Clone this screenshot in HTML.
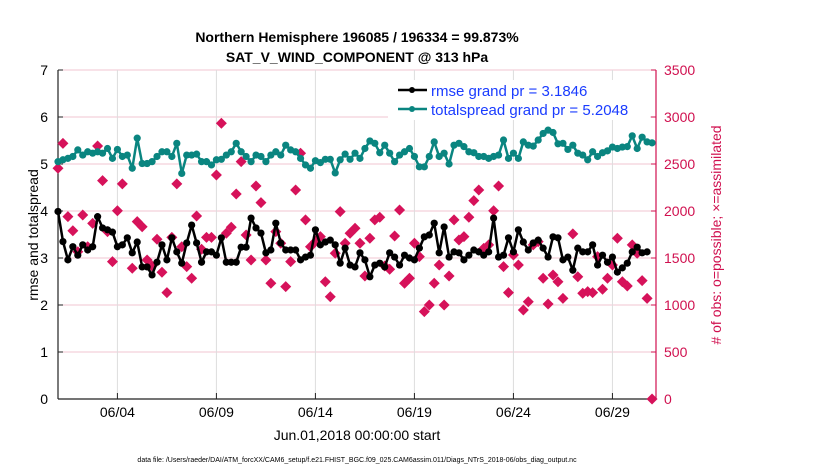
<!DOCTYPE html>
<html><head><meta charset="utf-8"><style>
html,body{margin:0;padding:0;background:#fff;}
svg{display:block;font-family:"Liberation Sans",Arial,sans-serif;}
</style></head><body>
<svg id="chart" width="830" height="470" viewBox="0 0 830 470">
<g id="grid"></g>
<g id="axes"></g>
<g id="marks"></g>
<text x="357" y="42" text-anchor="middle" font-size="14" font-weight="bold">Northern Hemisphere 196085 / 196334 = 99.873%</text>
<text x="357" y="62" text-anchor="middle" font-size="14" font-weight="bold">SAT_V_WIND_COMPONENT @ 313 hPa</text>
<text x="357" y="440" text-anchor="middle" font-size="14">Jun.01,2018 00:00:00 start</text>
<text x="357" y="462" text-anchor="middle" font-size="7">data file: /Users/raeder/DAI/ATM_forcXX/CAM6_setup/f.e21.FHIST_BGC.f09_025.CAM6assim.011/Diags_NTrS_2018-06/obs_diag_output.nc</text>
<text transform="translate(38,235) rotate(-90)" text-anchor="middle" font-size="14">rmse and totalspread</text>
<text transform="translate(721,235) rotate(-90)" text-anchor="middle" font-size="14" fill="#d0104f"># of obs: o=possible; ×=assimilated</text>
<g>
<rect x="388" y="80" width="262" height="40" fill="#fff"/>
<line x1="398" y1="90" x2="427" y2="90" stroke="#000" stroke-width="2.5"/>
<circle cx="412" cy="90" r="3" fill="#000"/>
<text x="431" y="96" font-size="15" fill="#1a3cff">rmse grand pr = 3.1846</text>
<line x1="398" y1="109" x2="427" y2="109" stroke="#0a8580" stroke-width="2.5"/>
<circle cx="412" cy="109" r="3" fill="#0a8580"/>
<text x="431" y="115" font-size="15" fill="#1a3cff">totalspread grand pr = 5.2048</text>
</g>
</svg>
<script>
const rmse=[3.99,3.35,2.96,3.24,3.06,3.28,3.17,3.24,3.88,3.64,3.6,3.55,3.24,3.28,3.43,3.11,3.34,2.81,2.81,2.64,2.91,3.28,2.96,3.43,3.13,2.89,3.32,3.7,3.32,2.91,3.13,3.13,3.06,3.43,2.91,2.91,2.91,3.23,3.23,3.85,3.64,
3.53,3.11,3.17,3.74,3.32,3.17,3.17,3.17,2.96,3.02,3.06,3.6,3.28,3.34,3.38,3.28,2.89,3.21,2.85,2.81,3.11,2.96,2.6,2.85,2.89,2.81,3.11,3.02,2.85,3.06,3.0,2.96,3.21,3.45,3.49,3.74,3.11,3.66,3.02,3.13,
3.11,2.96,3.06,3.17,3.13,3.06,3.13,3.85,3.02,3.06,3.43,3.13,3.6,3.34,3.17,3.32,3.38,3.21,3.02,3.45,3.43,2.96,3.02,2.74,3.21,3.13,3.13,3.28,2.85,3.06,2.91,3.02,2.7,2.79,2.89,3.13,3.23,3.11,3.13];
const spread=[5.05,5.09,5.12,5.16,5.3,5.19,5.26,5.23,5.26,5.23,5.33,5.12,5.31,5.16,5.19,4.91,5.55,5.01,5.01,5.05,5.16,5.26,5.26,5.16,5.44,4.8,5.19,5.19,5.21,5.05,5.05,4.98,5.09,5.1,5.19,5.26,5.44,5.26,5.16,5.05,5.19,
5.16,5.05,5.19,5.26,5.19,5.4,5.3,5.26,5.12,4.98,4.91,5.07,5.03,5.1,5.1,4.81,5.09,5.21,5.1,5.23,5.12,5.33,5.49,5.44,5.24,5.4,5.23,5.05,5.19,5.26,5.33,5.16,4.94,4.94,5.16,5.47,5.16,5.23,5.0,5.4,
5.44,5.37,5.26,5.24,5.16,5.16,5.12,5.16,5.19,5.51,5.12,5.23,5.12,5.47,5.4,5.38,5.51,5.65,5.72,5.67,5.43,5.44,5.31,5.4,5.23,5.19,5.09,5.26,5.16,5.24,5.28,5.36,5.33,5.36,5.37,5.6,5.33,5.57,5.47,5.45];
const obsCount=[2455,2720,1940,1790,1567,1958,1620,1869,2692,2323,1780,1461,2003,2288,null,1391,1887,1833,1479,1415,1699,1348,1131,1720,2288,1620,1408,1284,1947,1593,1720,1720,2383,2933,1763,1827,2181,2525,1745,1479,2266,
2089,1479,1231,1780,1657,1195,1461,2224,2614,1905,1620,1674,1727,1248,1088,1550,1993,1657,1763,1816,1657,1309,1710,1905,1933,1415,1380,1734,2011,1231,1284,1657,1514,929,1000,1231,1426,1000,1309,1905,
1692,1727,1933,2110,2224,1603,1639,2003,2266,1408,1131,1532,1426,947,1035,1639,1674,1284,1011,1319,1248,1071,null,1756,1301,1125,1142,1131,1514,1167,1284,1426,1710,1248,1202,1639,1550,1259,1071,0];
const xTickDays=[3,8,13,18,23,28];
const xTickLabels=["06/04","06/09","06/14","06/19","06/24","06/29"];
const yLeftTicks=[0,1,2,3,4,5,6,7];
const yRightTicks=[0,500,1000,1500,2000,2500,3000,3500];

const X0=58,X1=656,Y0=399,Y1=70,DMAX=30.2;
const sx=d=>X0+d/DMAX*(X1-X0);
const syL=v=>Y0-v/7*(Y0-Y1);
const syR=v=>Y0-v/3500*(Y0-Y1);
const NS="http://www.w3.org/2000/svg";
function mk(parent,tag,attrs){const e=document.createElementNS(NS,tag);for(const k in attrs)e.setAttribute(k,attrs[k]);parent.appendChild(e);return e;}
const grid=document.getElementById('grid'),axes=document.getElementById('axes'),marks=document.getElementById('marks');

let t=mk(grid,'line',{x1:X0,y1:Y1,x2:X1,y2:Y1,stroke:'#cccccc','stroke-width':1});


yRightTicks.forEach(v=>{
  const g=mk(grid,'line',{x1:X0,y1:syR(v),x2:X1,y2:syR(v),stroke:'#f2c4d2','stroke-width':1});
  
  
});
xTickDays.forEach((d,i)=>{
  const g=mk(grid,'line',{x1:sx(d),y1:Y1,x2:sx(d),y2:Y0,stroke:'#dddddd','stroke-width':1});
  
  
  const tk=mk(axes,'line',{x1:sx(d),y1:Y0,x2:sx(d),y2:Y0-6,stroke:'#222','stroke-width':1});
  
  
  const tx=mk(axes,'text',{x:sx(d),y:Y0+18,'text-anchor':'middle','font-size':14});
  tx.textContent=xTickLabels[i];
  
  
});
let a=mk(axes,'line',{x1:X0,y1:Y1,x2:X0,y2:Y0,stroke:'#222','stroke-width':1.2});


a=mk(axes,'line',{x1:X0,y1:Y0,x2:X1,y2:Y0,stroke:'#222','stroke-width':1.2});


a=mk(axes,'line',{x1:X1,y1:Y1,x2:X1,y2:Y0,stroke:'#d0104f','stroke-width':1.2});


yLeftTicks.forEach(v=>{
  const tk=mk(axes,'line',{x1:X0,y1:syL(v),x2:X0+5,y2:syL(v),stroke:'#222'});
  
  
  const tx=mk(axes,'text',{x:X0-10,y:syL(v)+5,'text-anchor':'end','font-size':14});
  tx.textContent=v;
  
  
});
yRightTicks.forEach(v=>{
  const tk=mk(axes,'line',{x1:X1,y1:syR(v),x2:X1-5,y2:syR(v),stroke:'#d0104f'});
  
  
  const tx=mk(axes,'text',{x:X1+8,y:syR(v)+5,'font-size':14,fill:'#d0104f'});
  tx.textContent=v;
  
  
});

obsCount.forEach((c,i)=>{
  if(c===null)return;
  const x=sx(i/4),y=syR(c),r=5.5;
  const p=mk(marks,'path',{d:`M${x} ${y-r}L${x+r} ${y}L${x} ${y+r}L${x-r} ${y}Z`,fill:'#d6125a'});
  
  
});
function series(vals,color,name){
  const pts=vals.map((v,i)=>sx(i/4).toFixed(1)+','+syL(v).toFixed(1)).join(' ');
  const l=mk(marks,'polyline',{points:pts,fill:'none',stroke:color,'stroke-width':2.5,'stroke-linejoin':'round'});
  
  
  vals.forEach((v,i)=>{
    const c=mk(marks,'circle',{cx:sx(i/4),cy:syL(v),r:3.6,fill:color});
    
    
  });
}
series(spread,'#0a8580','totalspread');
series(rmse,'#000000','rmse');
</script>
</body></html>
